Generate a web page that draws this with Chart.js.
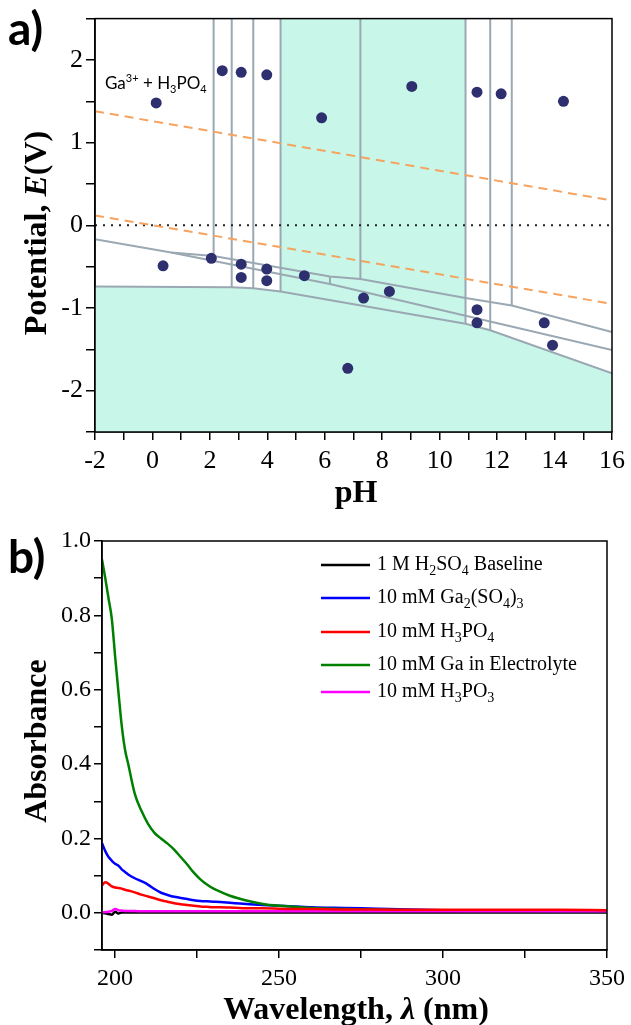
<!DOCTYPE html>
<html>
<head>
<meta charset="utf-8">
<script src="https://cdn.jsdelivr.net/npm/chart.js@4/dist/chart.umd.min.js"></script>
<style>
  html, body { margin: 0; padding: 0; background: #fff; }
  #wrap { position: relative; width: 631px; height: 1025px; }
  canvas { position: absolute; left: 0; }
  #pourbaix { top: 0; }
  #uvvis { top: 515px; }
</style>
</head>
<body>
<div id="wrap">
  <canvas id="pourbaix" width="631" height="515"></canvas>
  <canvas id="uvvis" width="631" height="510"></canvas>
</div>
<script>
// ---------- a) Pourbaix diagram ----------
const dotPH = [0.13, 2.43, 3.09, 3.98, 5.89, 9.03, 11.30, 12.14, 14.31,
               0.37, 2.05, 3.09, 3.09, 3.98, 3.98, 5.29, 7.35, 8.25, 11.30, 11.30, 13.64, 13.93, 6.80];
const dotE  = [1.48, 1.87, 1.85, 1.82, 1.30, 1.68, 1.61, 1.59, 1.50,
               -0.49, -0.40, -0.47, -0.63, -0.53, -0.67, -0.61, -0.88, -0.80, -1.02, -1.18, -1.18, -1.45, -1.73];

const waterPH = [-2, 16];
const oxygenE = [1.38, 0.30];
const hydrogenE = [0.12, -0.95];

const upperPH = [-2, 0.65, 2.13, 6.18, 7.24, 10.9, 12.51, 16];
const upperE  = [-0.17, -0.33, -0.37, -0.62, -0.65, -0.88, -0.97, -1.29];
const middlePH = [0.65, 6.18, 16];
const middleE  = [-0.33, -0.71, -1.51];
const lowerPH = [-2, 2.76, 3.51, 4.46, 10.9, 11.76, 16];
const lowerE  = [-0.74, -0.75, -0.76, -0.80, -1.19, -1.27, -1.79];

const vertPH     = [2.13, 2.76, 3.51, 4.46, 6.18, 7.24, 10.9, 11.76, 12.51];
const vertTop    = [2.5, 2.5, 2.5, 2.5, -0.62, 2.5, 2.5, 2.5, 2.5];
const vertBottom = [-0.37, -0.75, -0.76, -0.80, -0.71, -0.65, -1.19, -1.27, -0.97];

const bandPH = [4.46, 10.9];

const phTicks = [-2, -1, 0, 1, 2, 3, 4, 5, 6, 7, 8, 9, 10, 11, 12, 13, 14, 15, 16];
const eTicks = [-2.5, -2, -1.5, -1, -0.5, 0, 0.5, 1, 1.5, 2, 2.5];

// ---------- b) UV-vis ----------
const wavelength = [196, 197, 198, 199, 200, 201, 202, 203, 204, 206, 208, 210, 212, 214, 216, 218, 220,
                    222, 224, 226, 228, 230, 232, 235, 238, 241, 245, 250, 255, 260, 270, 280, 290, 300,
                    310, 320, 335, 350];
const baseline = [0.000, -0.001, -0.003, -0.005, 0.003, -0.002, 0.001, 0.001, 0.001, 0.001, 0.001, 0.001,
                  0.001, 0.001, 0.001, 0.001, 0.001, 0.001, 0.001, 0.001, 0.001, 0.001, 0.001, 0.001, 0.001,
                  0.001, 0.001, 0.001, 0.001, 0.001, 0.001, 0.001, 0.001, 0.001, 0.001, 0.001, 0.001, 0.001];
const gaSulfate = [0.187, 0.166, 0.150, 0.140, 0.132, 0.127, 0.117, 0.110, 0.103, 0.093, 0.085, 0.076,
                   0.064, 0.054, 0.048, 0.043, 0.040, 0.037, 0.034, 0.032, 0.031, 0.030, 0.029, 0.027,
                   0.025, 0.023, 0.021, 0.019, 0.017, 0.015, 0.013, 0.011, 0.009, 0.007, 0.006, 0.006,
                   0.005, 0.005];
const phosphoric = [0.074, 0.082, 0.078, 0.071, 0.068, 0.067, 0.065, 0.062, 0.060, 0.055, 0.049, 0.044,
                    0.039, 0.034, 0.030, 0.026, 0.023, 0.021, 0.019, 0.017, 0.016, 0.015, 0.015, 0.014,
                    0.013, 0.012, 0.012, 0.011, 0.010, 0.010, 0.009, 0.009, 0.008, 0.008, 0.008, 0.008,
                    0.008, 0.007];
const gaElectrolyte = [0.950, 0.900, 0.845, 0.790, 0.690, 0.595, 0.505, 0.440, 0.400, 0.320, 0.275, 0.240,
                       0.215, 0.200, 0.186, 0.170, 0.150, 0.130, 0.108, 0.090, 0.076, 0.065, 0.057, 0.046,
                       0.038, 0.031, 0.024, 0.019, 0.016, 0.013, 0.010, 0.008, 0.007, 0.006, 0.005, 0.005,
                       0.005, 0.005];
const phosphorous = [0.001, 0.002, 0.003, 0.005, 0.010, 0.007, 0.006, 0.005, 0.005, 0.005, 0.004, 0.004,
                     0.004, 0.004, 0.004, 0.004, 0.004, 0.004, 0.004, 0.004, 0.004, 0.004, 0.004, 0.004,
                     0.004, 0.004, 0.004, 0.004, 0.004, 0.004, 0.004, 0.004, 0.004, 0.004, 0.004, 0.004,
                     0.004, 0.004];
const seriesNames = ['1 M H_2SO_4 Baseline', '10 mM Ga_2(SO_4)_3', '10 mM H_3PO_4',
                     '10 mM Ga in Electrolyte', '10 mM H_3PO_3'];

const nmTicks = [200, 225, 250, 275, 300, 325, 350];
const absTicks = [-0.1, 0, 0.1, 0.2, 0.3, 0.4, 0.5, 0.6, 0.7, 0.8, 0.9, 1.0];

const TEAL = '#c8f7e9';
const BOUNDARY = '#9aa8b3';
const SERIF = '"Liberation Serif", "Times New Roman", serif';
const SANS = 'Lato, "Open Sans", sans-serif';

function pts(xs, ys) {
    return xs.map((x, i) => ({ x: x, y: ys[i] }));
}

// draw a row of text pieces: [text, font, dy]
function richText(ctx, parts, x, y, align) {
    let w = 0;
    parts.forEach(p => { ctx.font = p[1]; w += ctx.measureText(p[0]).width; });
    let cx = align === 'center' ? x - w / 2 : x;
    parts.forEach(p => {
        ctx.font = p[1];
        ctx.fillText(p[0], cx, y + (p[2] || 0));
        cx += ctx.measureText(p[0]).width;
    });
}

function subParts(name, size) {
    return name.split(/_(\d)/).map((t, i) =>
        i % 2 ? [t, Math.round(size * 0.7) + 'px ' + SERIF, 6] : [t, size + 'px ' + SERIF, 0]);
}

function frame(chart) {
    const a = chart.chartArea, ctx = chart.ctx;
    ctx.save();
    ctx.strokeStyle = '#000';
    ctx.lineWidth = 1.5;
    ctx.strokeRect(a.left, a.top, a.right - a.left, a.bottom - a.top);
    ctx.restore();
}

function lineSet(data, color, width, dash, order) {
    return { data: data, showLine: true, borderColor: color, borderWidth: width, borderDash: dash || [],
             pointRadius: 0, fill: false, order: order };
}

document.addEventListener("DOMContentLoaded", function () {

    // PANEL A
    const boundaryLines = [
        lineSet(pts(upperPH, upperE), BOUNDARY, 2, null, 5),
        lineSet(pts(middlePH, middleE), BOUNDARY, 2, null, 5)
    ];
    const verticals = vertPH.map((p, i) =>
        lineSet([{ x: p, y: vertTop[i] }, { x: p, y: vertBottom[i] }], BOUNDARY, 2, null, 5));

    const pourbaixLabels = {
        id: 'pourbaixLabels',
        afterDraw(chart) {
            frame(chart);
            const ctx = chart.ctx;
            ctx.save();
            ctx.fillStyle = '#000';
            ctx.textBaseline = 'alphabetic';
            ctx.font = 'bold 46px ' + SANS;
            ctx.fillText('a)', 8, 45);

            richText(ctx, [['Ga', '17px ' + SANS], ['3+', '11px ' + SANS, -7], [' + H', '17px ' + SANS],
                           ['3', '11px ' + SANS, 4], ['PO', '17px ' + SANS], ['4', '11px ' + SANS, 4]],
                     105, 89, 'left');

            ctx.textBaseline = 'middle';
            richText(ctx, [['pH', 'bold 32px ' + SERIF]], 356, 494, 'center');

            ctx.translate(38, 233);
            ctx.rotate(-Math.PI / 2);
            richText(ctx, [['Potential, ', 'bold 32px ' + SERIF], ['E', 'italic bold 32px ' + SERIF],
                           ['(V)', 'bold 32px ' + SERIF]], 0, 0, 'center');
            ctx.restore();
        }
    };

    new Chart(document.getElementById('pourbaix'), {
        type: 'scatter',
        data: {
            datasets: [
                { data: pts(dotPH, dotE), backgroundColor: '#2d2f6e', borderWidth: 0, pointRadius: 5.5, order: 0 },
                lineSet(pts(waterPH, oxygenE), '#f5a35f', 2, [9, 6], 2),
                lineSet(pts(waterPH, hydrogenE), '#f5a35f', 2, [9, 6], 2),
                lineSet(pts(waterPH, [0, 0]), '#222', 2, [2, 6], 3),
                ...boundaryLines,
                ...verticals,
                { data: pts(lowerPH, lowerE), showLine: true, borderColor: BOUNDARY, borderWidth: 2,
                  pointRadius: 0, fill: 'start', backgroundColor: TEAL, order: 15 },
                { data: bandPH.map(p => ({ x: p, y: 2.5 })), showLine: true, borderWidth: 0,
                  borderColor: 'rgba(0,0,0,0)', pointRadius: 0, fill: 'start', backgroundColor: TEAL, order: 20 }
            ]
        },
        options: {
            responsive: false,
            animation: false,
            events: [],
            layout: { padding: { top: 13, right: 15, left: 0, bottom: 0 } },
            plugins: { legend: { display: false }, tooltip: { enabled: false } },
            scales: {
                x: {
                    type: 'linear', min: -2, max: 16,
                    afterBuildTicks: s => { s.ticks = phTicks.map(v => ({ value: v })); },
                    ticks: { autoSkip: false, maxRotation: 0, color: '#000', padding: 6,
                             font: { family: SERIF, size: 26 },
                             callback: v => (v % 2 === 0 ? String(v) : '') },
                    grid: { drawOnChartArea: false, drawTicks: true, tickLength: 8, color: '#000', lineWidth: 1.5 },
                    border: { color: '#000', width: 1.5 },
                    afterFit: s => { s.height = 83; }
                },
                y: {
                    type: 'linear', min: -2.5, max: 2.5,
                    afterBuildTicks: s => { s.ticks = eTicks.map(v => ({ value: v })); },
                    ticks: { autoSkip: false, color: '#000', padding: 3,
                             font: { family: SERIF, size: 26 },
                             callback: v => (Number.isInteger(v) ? String(v) : '') },
                    grid: { drawOnChartArea: false, drawTicks: true, tickLength: 9, color: '#000', lineWidth: 1.5 },
                    border: { color: '#000', width: 1.5 },
                    afterFit: s => { s.width = 95; }
                }
            }
        },
        plugins: [pourbaixLabels]
    });

    // PANEL B
    const colors = ['#000000', '#0000ff', '#ff0000', '#008000', '#ff00ff'];
    const series = [baseline, gaSulfate, phosphoric, gaElectrolyte, phosphorous];
    const drawOrder = [4, 3, 0, 2, 1];

    const uvLabels = {
        id: 'uvLabels',
        afterDraw(chart) {
            frame(chart);
            const ctx = chart.ctx;
            ctx.save();
            ctx.fillStyle = '#000';
            ctx.textBaseline = 'alphabetic';
            ctx.font = 'bold 46px ' + SANS;
            ctx.fillText('b)', 8, 58);

            // legend
            const rows = [50, 83, 117, 150, 177];
            seriesNames.forEach((name, i) => {
                ctx.strokeStyle = colors[i];
                ctx.lineWidth = 2.5;
                ctx.beginPath();
                ctx.moveTo(321, rows[i]);
                ctx.lineTo(370, rows[i]);
                ctx.stroke();
                ctx.textBaseline = 'middle';
                richText(ctx, subParts(name, 20), 377, rows[i], 'left');
            });

            ctx.textBaseline = 'middle';
            richText(ctx, [['Wavelength, ', 'bold 32px ' + SERIF], ['\u03bb', 'italic bold 32px ' + SERIF],
                           [' (nm)', 'bold 32px ' + SERIF]], 356, 496, 'center');

            ctx.translate(38, 226);
            ctx.rotate(-Math.PI / 2);
            richText(ctx, [['Absorbance', 'bold 32px ' + SERIF]], 0, 0, 'center');
            ctx.restore();
        }
    };

    new Chart(document.getElementById('uvvis'), {
        type: 'line',
        data: {
            datasets: series.map((s, i) => ({
                label: seriesNames[i],
                data: pts(wavelength, s),
                borderColor: colors[i],
                borderWidth: 2.5,
                pointRadius: 0,
                cubicInterpolationMode: 'monotone',
                fill: false,
                order: drawOrder[i]
            }))
        },
        options: {
            responsive: false,
            animation: false,
            events: [],
            layout: { padding: { top: 26, right: 20, left: 0, bottom: 0 } },
            plugins: { legend: { display: false }, tooltip: { enabled: false } },
            scales: {
                x: {
                    type: 'linear', min: 196, max: 350,
                    afterBuildTicks: s => { s.ticks = nmTicks.map(v => ({ value: v })); },
                    ticks: { autoSkip: false, maxRotation: 0, color: '#000', padding: 6,
                             font: { family: SERIF, size: 24 },
                             callback: v => (v % 50 === 0 ? String(v) : '') },
                    grid: { drawOnChartArea: false, drawTicks: true, tickLength: 8, color: '#000', lineWidth: 1.5 },
                    border: { color: '#000', width: 1.5 },
                    afterFit: s => { s.height = 75; }
                },
                y: {
                    type: 'linear', min: -0.1, max: 1.0,
                    afterBuildTicks: s => { s.ticks = absTicks.map(v => ({ value: v })); },
                    ticks: { autoSkip: false, color: '#000', padding: 3,
                             font: { family: SERIF, size: 24 },
                             callback: v => {
                                 const k = Math.round(v * 10);
                                 return (k % 2 === 0 && k >= 0) ? (k / 10).toFixed(1) : '';
                             } },
                    grid: { drawOnChartArea: false, drawTicks: true, tickLength: 8, color: '#000', lineWidth: 1.5 },
                    border: { color: '#000', width: 1.5 },
                    afterFit: s => { s.width = 102; }
                }
            }
        },
        plugins: [uvLabels]
    });

});
</script>
</body>
</html>
